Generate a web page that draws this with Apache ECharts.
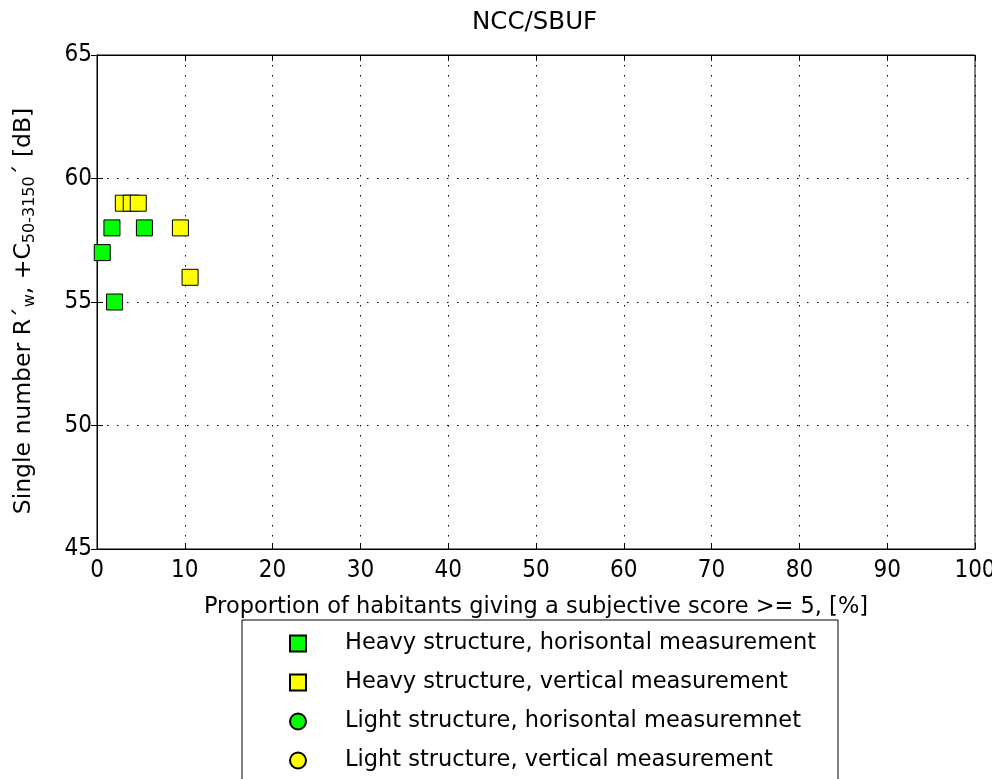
<!DOCTYPE html>
<html>
<head>
<meta charset="utf-8">
<script src="https://cdn.jsdelivr.net/npm/echarts@6/dist/echarts.min.js"></script>
<style>
  html, body { margin: 0; padding: 0; background: #fff; }
  #chart { width: 992px; height: 779px; }
</style>
</head>
<body>
<div id="chart"></div>
<script>
// Chart data
const seriesNames = [
    'Heavy structure, horisontal measurement',
    'Heavy structure, vertical measurement',
    'Light structure, horisontal measuremnet',
    'Light structure, vertical measurement'
];
const heavyHorizontal = [[1.7, 58], [5.4, 58], [0.6, 57], [2.0, 55]];
const heavyVertical = [[3.0, 59], [3.9, 59], [4.7, 59], [9.5, 58], [10.6, 56]];
const lightHorizontal = [];
const lightVertical = [];
const xTicks = [0, 10, 20, 30, 40, 50, 60, 70, 80, 90, 100];
const yTicks = [45, 50, 55, 60, 65];

const FONT = '"DejaVu Sans", sans-serif';
// tick digits are tall and narrow in the reference
const TICK_FONT = '"Liberation Sans Narrow", "DejaVu Sans Condensed", sans-serif';

const chart = echarts.init(document.getElementById('chart'), null, { renderer: 'canvas' });

// Extra unlabelled axes on top and right, for the box ticks
function boxAxis(position, min, max, interval) {
    return {
        type: 'value',
        position: position,
        min: min, max: max, interval: interval,
        axisLine: { show: true, lineStyle: { color: '#000', width: 1 } },
        axisTick: { show: true, inside: true, length: 6, lineStyle: { color: '#000' } },
        axisLabel: { show: false },
        splitLine: { show: false }
    };
}

function scatterSeries(name, data, symbol, color) {
    return {
        name: name,
        type: 'scatter',
        data: data,
        symbol: symbol,
        symbolSize: 16,
        itemStyle: { color: color, borderColor: '#000', borderWidth: 1, opacity: 1 },
        emphasis: { disabled: true }
    };
}

const option = {
    animation: false,
    backgroundColor: '#fff',
    textStyle: { fontFamily: FONT },
    title: {
        text: 'NCC/SBUF',
        left: 467,
        top: 5,
        textStyle: { fontFamily: FONT, fontSize: 24.5, fontWeight: 'normal', color: '#000' }
    },
    grid: {
        left: 97, right: 17, top: 55, bottom: 230,
        outerBoundsMode: 'none',
        containLabel: false,
        show: true, borderColor: '#000', borderWidth: 1, backgroundColor: '#fff'
    },
    xAxis: [{
        type: 'value',
        min: xTicks[0], max: xTicks[xTicks.length - 1], interval: 10,
        name: 'Proportion of habitants giving a subjective score >= 5, [%]',
        nameLocation: 'middle',
        nameGap: 47,
        nameTextStyle: { fontFamily: FONT, fontSize: 22.5, color: '#000' },
        axisLine: { show: true, onZero: false, lineStyle: { color: '#000', width: 1 } },
        axisTick: { show: true, inside: true, length: 6, lineStyle: { color: '#000' } },
        axisLabel: { fontFamily: TICK_FONT, fontSize: 24, color: '#000', margin: 10 },
        splitLine: { show: true, lineStyle: { color: '#000', type: [1.5, 8.5], width: 1 } }
    }, boxAxis('top', 0, 100, 10)],
    yAxis: [{
        type: 'value',
        min: yTicks[0], max: yTicks[yTicks.length - 1], interval: 5,
        name: 'Single number R\u00b4{sub|w}, +C{sub|50-3150}\u00b4 [dB]',
        nameLocation: 'middle',
        nameRotate: 90,
        nameGap: 87,
        nameTextStyle: {
            fontFamily: FONT, fontSize: 23.5, color: '#000', lineHeight: 27, verticalAlign: 'top',
            padding: [0, 18, 0, 0],
            rich: {
                sub: { fontFamily: FONT, fontSize: 16, lineHeight: 16, padding: [12, 0, 0, 0], color: '#000' }
            }
        },
        axisLine: { show: true, onZero: false, lineStyle: { color: '#000', width: 1 } },
        axisTick: { show: true, inside: true, length: 6, lineStyle: { color: '#000' } },
        axisLabel: { fontFamily: TICK_FONT, fontSize: 24, color: '#000', margin: 5 },
        splitLine: { show: true, lineStyle: { color: '#000', type: [1.5, 8.5], width: 1 } }
    }, boxAxis('right', 45, 65, 5)],
    legend: {
        orient: 'vertical',
        left: 242,
        top: 620,
        height: 300,
        padding: [11, 22, 40, 47],
        itemGap: 14,
        itemWidth: 16,
        itemHeight: 16,
        backgroundColor: '#fff',
        borderColor: '#000',
        borderWidth: 1,
        borderRadius: 0,
        selectedMode: false,
        data: seriesNames,
        textStyle: {
            fontFamily: FONT, fontSize: 22.5, color: '#000', lineHeight: 25,
            padding: [0, 0, 0, 34]
        }
    },
    series: [
        scatterSeries(seriesNames[0], heavyHorizontal, 'rect', '#00ff00'),
        scatterSeries(seriesNames[1], heavyVertical, 'rect', '#ffff00'),
        scatterSeries(seriesNames[2], lightHorizontal, 'circle', '#00ff00'),
        scatterSeries(seriesNames[3], lightVertical, 'circle', '#ffff00')
    ]
};

chart.setOption(option);
</script>
</body>
</html>
